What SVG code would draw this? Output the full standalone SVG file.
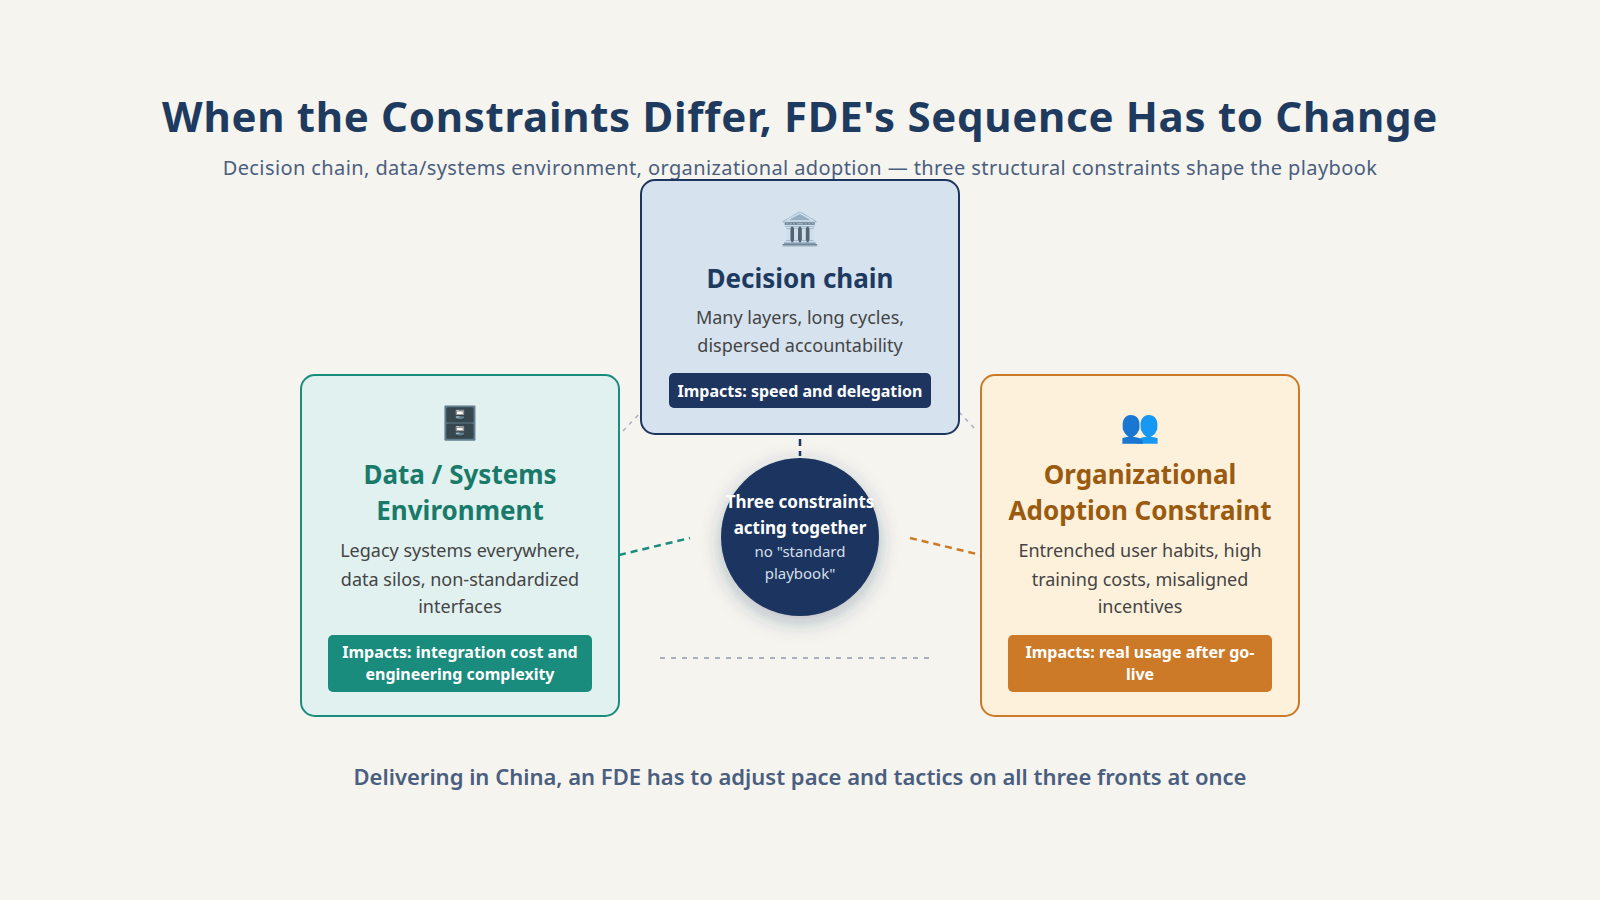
<svg xmlns="http://www.w3.org/2000/svg" width="1600" height="900" viewBox="0 0 1600 900">
<style>
text{font-family:"Noto Sans","Liberation Sans",sans-serif;text-anchor:middle}
.h{font-size:26px;font-weight:700}
.d{font-size:18px;fill:#444}
.p{font-size:16px;font-weight:700;fill:#fff}
.ic{font-size:32px}
</style>
<defs><filter id="sh" x="-50%" y="-50%" width="200%" height="200%"><feDropShadow dx="0" dy="6" stdDeviation="10" flood-color="#1e3560" flood-opacity="0.3"/></filter></defs>
<rect width="1600" height="900" fill="#f5f4ee"/>
<text x="800" y="132" font-size="42" font-weight="700" fill="#1e3a5f" letter-spacing="0.7">When the Constraints Differ, FDE's Sequence Has to Change</text>
<text x="800" y="175" font-size="20" fill="#4a5e80" letter-spacing="0.4">Decision chain, data/systems environment, organizational adoption — three structural constraints shape the playbook</text>
<g id="connectors" fill="none" stroke-width="2.5" stroke-dasharray="7 5">
<line x1="800" y1="439" x2="800" y2="456" stroke="#1e3560"/>
<line x1="619" y1="555" x2="690" y2="538" stroke="#1a8c7e"/>
<line x1="910" y1="538" x2="981" y2="555" stroke="#cc7a28"/>
<line x1="623" y1="431" x2="641" y2="412" stroke="#a8b0c0" stroke-width="1.5" stroke-dasharray="4 5"/>
<line x1="959" y1="412" x2="977" y2="431" stroke="#a8b0c0" stroke-width="1.5" stroke-dasharray="4 5"/>
<line x1="660" y1="658" x2="935" y2="658" stroke="#a8b0c0" stroke-width="2" stroke-dasharray="5 6"/>
</g>
<g id="decision">
<rect x="641" y="180" width="318" height="254" rx="14" fill="#d6e3ef" stroke="#1e3560" stroke-width="2"/>
<text x="800" y="240" class="ic">🏛️</text>
<text x="800" y="288" class="h" fill="#1e3a5f">Decision chain</text>
<text x="800" y="324" class="d">Many layers, long cycles,</text>
<text x="800" y="352" class="d">dispersed accountability</text>
<rect x="669" y="373" width="262" height="35" rx="5" fill="#1e3560"/>
<text x="800" y="397" class="p">Impacts: speed and delegation</text>
</g>
<g id="data">
<rect x="301" y="375" width="318" height="341" rx="14" fill="#e0f1f0" stroke="#1a8c7e" stroke-width="2"/>
<text x="460" y="434" class="ic">🗄️</text>
<text x="460" y="484" class="h" fill="#1a7a6a">Data / Systems</text>
<text x="460" y="520" class="h" fill="#1a7a6a">Environment</text>
<text x="460" y="557" class="d">Legacy systems everywhere,</text>
<text x="460" y="586" class="d">data silos, non-standardized</text>
<text x="460" y="613" class="d">interfaces</text>
<rect x="328" y="635" width="264" height="57" rx="5" fill="#1a8c7e"/>
<text x="460" y="658" class="p">Impacts: integration cost and</text>
<text x="460" y="680" class="p">engineering complexity</text>
</g>
<g id="adoption">
<rect x="981" y="375" width="318" height="341" rx="14" fill="#fdf1dc" stroke="#cc7a28" stroke-width="2"/>
<text x="1140" y="437" class="ic">👥</text>
<text x="1140" y="484" class="h" fill="#9a5a10">Organizational</text>
<text x="1140" y="520" class="h" fill="#9a5a10">Adoption Constraint</text>
<text x="1140" y="557" class="d">Entrenched user habits, high</text>
<text x="1140" y="586" class="d">training costs, misaligned</text>
<text x="1140" y="613" class="d">incentives</text>
<rect x="1008" y="635" width="264" height="57" rx="5" fill="#cc7a28"/>
<text x="1140" y="658" class="p">Impacts: real usage after go-</text>
<text x="1140" y="680" class="p">live</text>
</g>
<g id="center">
<circle cx="800" cy="537" r="79" fill="#1e3560" filter="url(#sh)"/>
<text x="800" y="508" font-size="17" font-weight="700" fill="#fff">Three constraints</text>
<text x="800" y="534" font-size="17" font-weight="700" fill="#fff">acting together</text>
<text x="800" y="557" font-size="15" fill="#d6dfea">no "standard</text>
<text x="800" y="579" font-size="15" fill="#d6dfea">playbook"</text>
</g>
<text x="800" y="785" font-size="22" font-weight="600" fill="#4a5e80">Delivering in China, an FDE has to adjust pace and tactics on all three fronts at once</text>
</svg>
